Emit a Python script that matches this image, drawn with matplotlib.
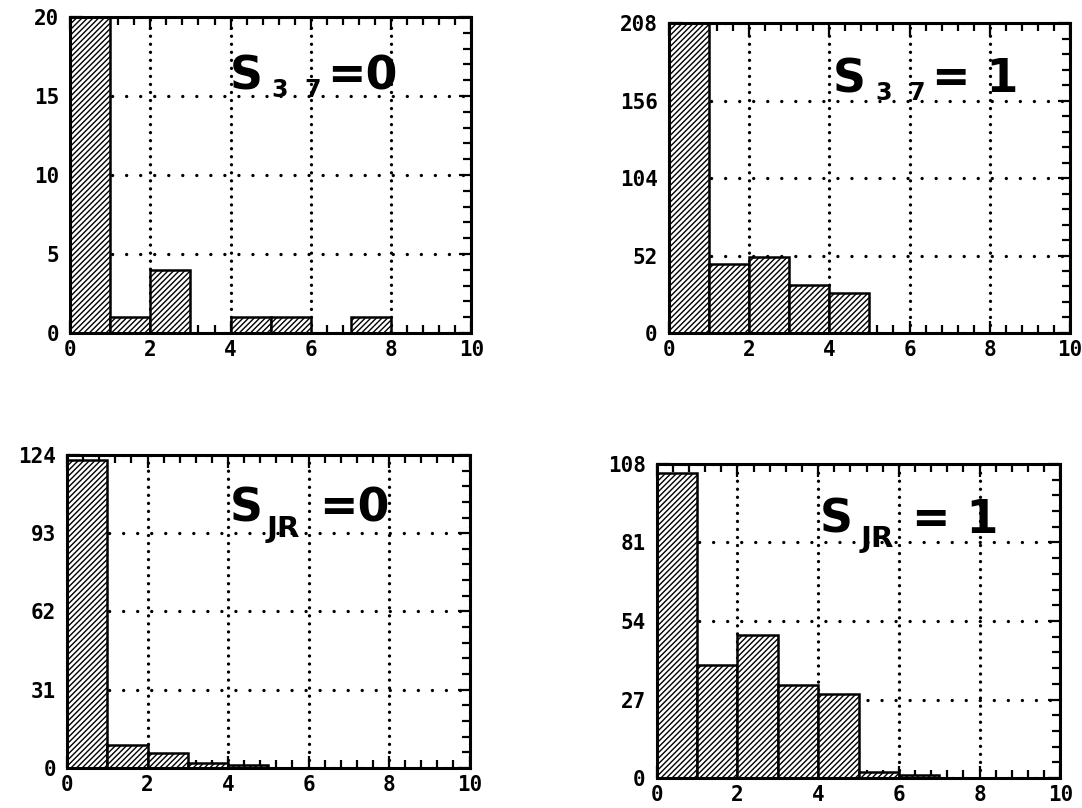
import matplotlib.pyplot as plt
import numpy as np
from matplotlib.ticker import AutoMinorLocator

plt.rcParams['hatch.linewidth'] = 1.0
plt.rcParams['axes.linewidth'] = 2.2

# histogram bins (left edges, unit width)
bins = np.arange(10)
xticks = [0, 2, 4, 6, 8, 10]

counts_s37_0 = [20, 1, 4, 0, 1, 1, 0, 1, 0, 0]
counts_s37_1 = [208, 46, 51, 32, 27, 0, 0, 0, 0, 0]
counts_sjr_0 = [122, 9, 6, 2, 1, 0, 0, 0, 0, 0]
counts_sjr_1 = [105, 39, 49, 32, 29, 2, 1, 0, 0, 0]

yticks_s37_0 = [0, 5, 10, 15, 20]
yticks_s37_1 = [0, 52, 104, 156, 208]
yticks_sjr_0 = [0, 31, 62, 93, 124]
yticks_sjr_1 = [0, 27, 54, 81, 108]

fig = plt.figure(figsize=(10.82, 8.08), dpi=100)

# rect, counts, yticks, subscript, rhs, (label x, y), sub offset, sub size, rhs offset
panels = [
    ([0.0647, 0.588, 0.371, 0.391], counts_s37_0, yticks_s37_0, '3  7', '=0',
     (0.398, 0.769), (42, -7), 17, 97),
    ([0.618, 0.588, 0.371, 0.383], counts_s37_1, yticks_s37_1, '3  7', '= 1',
     (0.409, 0.777), (43, -8), 17, 99),
    ([0.062, 0.0495, 0.372, 0.3875], counts_sjr_0, yticks_sjr_0, 'JR', '=0',
     (0.404, 0.786), (37, -15), 21, 89),
    ([0.607, 0.037, 0.373, 0.389], counts_sjr_1, yticks_sjr_1, 'JR', '= 1',
     (0.404, 0.780), (41, -14), 21, 92),
]

tickfont = dict(family='DejaVu Sans Mono', weight='bold', size=15)
titlefont = dict(family='DejaVu Sans', fontweight='bold', color='k')

for rect, counts, yticks, sub, rhs, (lx, ly), (sx, sy), subsize, rx in panels:
    ax = fig.add_axes(rect)
    ax.bar(bins, counts, width=1, align='edge', color='white',
           edgecolor='k', linewidth=1.8, hatch='//////', zorder=2)
    ax.set_xlim(0, 10)
    ax.set_ylim(0, yticks[-1])
    ax.set_xticks(xticks)
    ax.set_yticks(yticks)
    ax.xaxis.set_minor_locator(AutoMinorLocator(5))
    ax.yaxis.set_minor_locator(AutoMinorLocator(5))
    ax.tick_params(which='both', direction='in', top=True, right=True,
                   width=1.6, color='k')
    ax.tick_params(which='major', length=9)
    ax.tick_params(which='minor', length=5.5)
    ax.tick_params(axis='y', pad=8)
    ax.tick_params(axis='x', pad=5)
    for lab in ax.get_xticklabels() + ax.get_yticklabels():
        lab.set_fontproperties(tickfont)

    # round dotted grid: denser dots on the vertical lines
    ax.set_axisbelow(True)
    ax.xaxis.grid(True, color='k', linewidth=2.4, linestyle=(0, (0.01, 2.4)),
                  dash_capstyle='round')
    ax.yaxis.grid(True, color='k', linewidth=2.4, linestyle=(0, (0.01, 4.2)),
                  dash_capstyle='round')
    for sp in ax.spines.values():
        sp.set_zorder(3)

    ax.annotate('S', xy=(lx, ly), xycoords='axes fraction', fontsize=33,
                va='baseline', ha='left', zorder=4, **titlefont)
    ax.annotate(sub, xy=(lx, ly), xycoords='axes fraction', xytext=(sx, sy),
                textcoords='offset pixels', fontsize=subsize,
                va='baseline', ha='left', zorder=4, **titlefont)
    ax.annotate(rhs, xy=(lx, ly), xycoords='axes fraction', xytext=(rx, 0),
                textcoords='offset pixels', fontsize=33,
                va='baseline', ha='left', zorder=4, **titlefont)

fig.savefig('out.png', dpi=100)
